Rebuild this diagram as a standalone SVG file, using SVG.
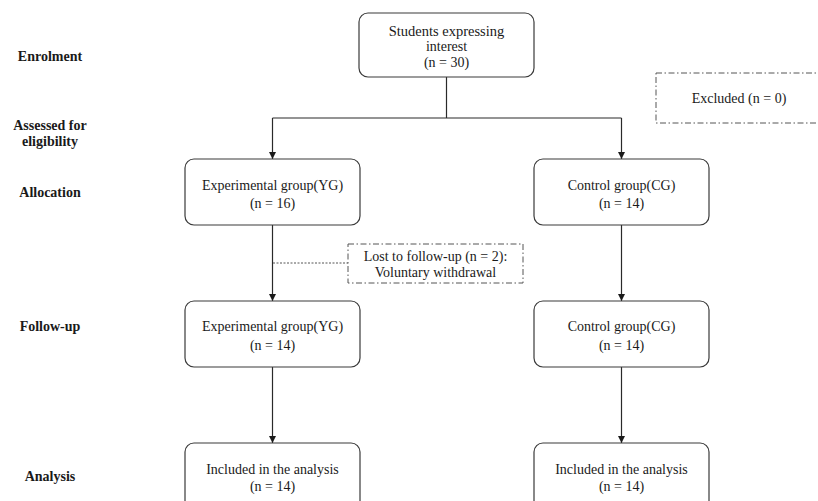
<svg xmlns="http://www.w3.org/2000/svg" width="818" height="501" viewBox="0 0 818 501">
<defs>
<marker id="arr" viewBox="0 0 10 10" refX="10" refY="5" markerWidth="7" markerHeight="7" markerUnits="userSpaceOnUse" orient="auto">
<path d="M0,0 L10,5 L0,10 z" fill="#1a1a1a"/>
</marker>
<style>
.box{fill:#fff;stroke:#3a3a3a;stroke-width:1.2}
.dd{fill:#fff;stroke:#555;stroke-width:1;stroke-dasharray:6,2.5,1.5,2.5}
.t{font-family:"Liberation Serif","DejaVu Serif",serif;font-size:14px;fill:#1a1a1a;text-anchor:middle}
.lbl{font-family:"Liberation Serif","DejaVu Serif",serif;font-size:14px;font-weight:bold;fill:#1a1a1a;text-anchor:middle}
.ln{fill:none;stroke:#2a2a2a;stroke-width:1.2}
.dl{fill:none;stroke:#555;stroke-width:1;stroke-dasharray:2,1.5}
</style>
</defs>
<rect width="818" height="501" fill="#fff"/>
<g id="stage-labels">
<text class="lbl" x="50" y="61">Enrolment</text>
<text class="lbl" x="50" y="130">Assessed for</text>
<text class="lbl" x="50" y="146">eligibility</text>
<text class="lbl" x="50" y="197">Allocation</text>
<text class="lbl" x="50" y="331">Follow-up</text>
<text class="lbl" x="50" y="481">Analysis</text>
</g>
<g id="connectors">
<path class="ln" d="M446.5,77 V118"/>
<path class="ln" d="M272.5,118 H621.5"/>
<path class="ln" d="M272.5,118 V159" marker-end="url(#arr)"/>
<path class="ln" d="M621.5,118 V159" marker-end="url(#arr)"/>
<path class="ln" d="M272.5,225 V301" marker-end="url(#arr)"/>
<path class="ln" d="M621.5,225 V301" marker-end="url(#arr)"/>
<path class="ln" d="M272.5,367 V443" marker-end="url(#arr)"/>
<path class="ln" d="M621.5,367 V443" marker-end="url(#arr)"/>
<path class="dl" d="M273,263 H348"/>
</g>
<g id="enrolment">
<rect class="box" x="359" y="13" width="175" height="64" rx="9"/>
<text class="t" x="446.5" y="35.5" style="font-size:14.5px">Students expressing</text>
<text class="t" x="446.5" y="51">interest</text>
<text class="t" x="446.5" y="67">(n = 30)</text>
</g>
<g id="excluded">
<rect class="dd" x="656" y="73" width="180" height="50"/>
<text class="t" x="739" y="103">Excluded (n = 0)</text>
</g>
<g id="alloc-yg">
<rect class="box" x="185" y="159" width="175" height="66" rx="9"/>
<text class="t" x="272.5" y="189.5">Experimental group(YG)</text>
<text class="t" x="272.5" y="208">(n = 16)</text>
</g>
<g id="alloc-cg">
<rect class="box" x="534" y="159" width="175" height="66" rx="9"/>
<text class="t" x="621.5" y="189.5">Control group(CG)</text>
<text class="t" x="621.5" y="208">(n = 14)</text>
</g>
<g id="lost">
<rect class="dd" x="348" y="244" width="175" height="39"/>
<text class="t" x="435.5" y="260.5">Lost to follow-up (n = 2):</text>
<text class="t" x="435.5" y="276.5">Voluntary withdrawal</text>
</g>
<g id="follow-yg">
<rect class="box" x="185" y="301" width="175" height="66" rx="9"/>
<text class="t" x="272.5" y="330.5">Experimental group(YG)</text>
<text class="t" x="272.5" y="349.5">(n = 14)</text>
</g>
<g id="follow-cg">
<rect class="box" x="534" y="301" width="175" height="66" rx="9"/>
<text class="t" x="621.5" y="330.5">Control group(CG)</text>
<text class="t" x="621.5" y="349.5">(n = 14)</text>
</g>
<g id="analysis-yg">
<rect class="box" x="185" y="443" width="175" height="70" rx="9"/>
<text class="t" x="272.5" y="473.5">Included in the analysis</text>
<text class="t" x="272.5" y="490.5">(n = 14)</text>
</g>
<g id="analysis-cg">
<rect class="box" x="534" y="443" width="175" height="70" rx="9"/>
<text class="t" x="621.5" y="473.5">Included in the analysis</text>
<text class="t" x="621.5" y="490.5">(n = 14)</text>
</g>
</svg>
